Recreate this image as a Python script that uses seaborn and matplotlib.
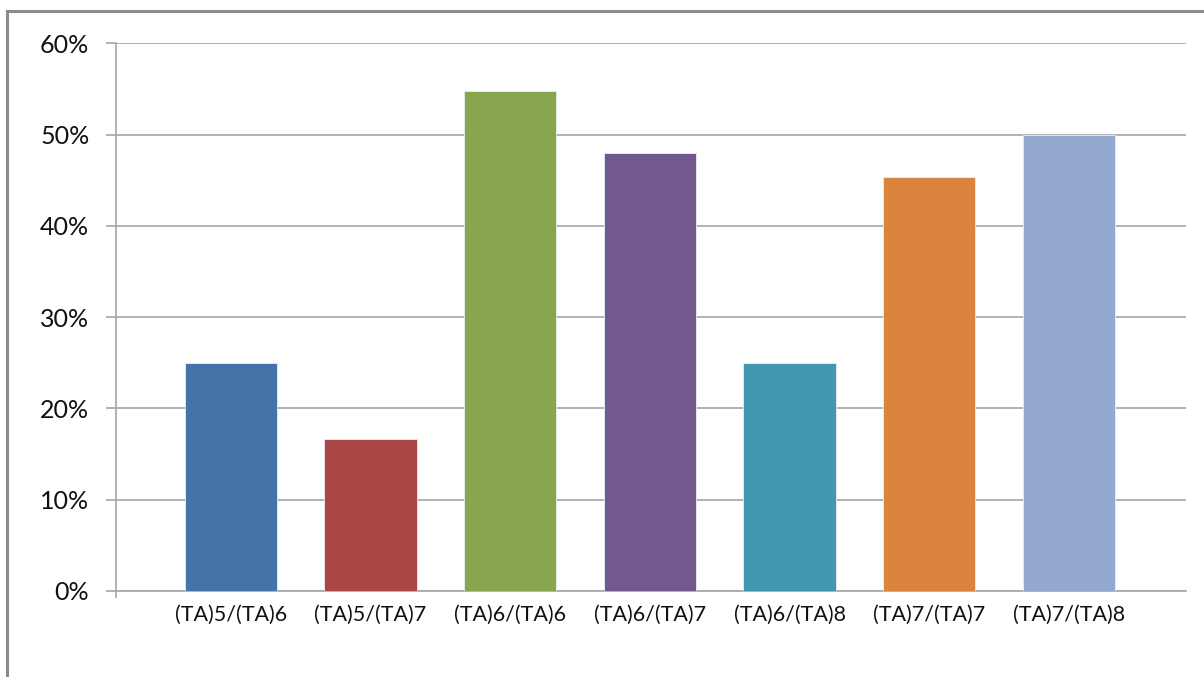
import matplotlib
matplotlib.use("Agg")
import matplotlib.pyplot as plt
import matplotlib.patches as mpatches
from matplotlib.ticker import PercentFormatter, FixedLocator
import seaborn as sns
import pandas as pd

categories = ["(TA)5/(TA)6", "(TA)5/(TA)7", "(TA)6/(TA)6", "(TA)6/(TA)7",
              "(TA)6/(TA)8", "(TA)7/(TA)7", "(TA)7/(TA)8"]
values = [25.0, 16.7, 54.8, 48.0, 25.0, 45.3, 50.0]
colors = ["#4572A7", "#AA4643", "#89A54E", "#71588F", "#4198AF", "#DB843D", "#93A9CF"]
yticks = [0, 10, 20, 30, 40, 50, 60]

sns.set_theme(style="white")
plt.rcParams['font.family'] = ['Lato', 'DejaVu Sans']

df = pd.DataFrame({"cat": categories, "val": values})

fig = plt.figure(figsize=(12.04, 6.77), dpi=100)
ax = fig.add_axes([116/1204, 1 - 591/677, (1186 - 116)/1204, (591 - 43.3)/677])

sns.barplot(data=df, x="cat", y="val", hue="cat", palette=colors, legend=False,
            width=0.66, saturation=1, ax=ax, zorder=3, linewidth=0.6, edgecolor="#e8eef6")

ax.set_xlim(-0.821, 6.838)
ax.set_ylim(0, 60)
ax.yaxis.set_major_locator(FixedLocator(yticks))
ax.yaxis.set_major_formatter(PercentFormatter(100, decimals=0))
ax.grid(axis="y", color="#a6a6a6", linewidth=1.2, zorder=0)
ax.grid(axis="x", visible=False)
ax.set_xlabel("")
ax.set_ylabel("")

for s in ["top", "right"]:
    ax.spines[s].set_visible(False)
for s in ["left", "bottom"]:
    ax.spines[s].set_color("#a6a6a6")
    ax.spines[s].set_linewidth(1.2)

ax.tick_params(axis="y", which="major", left=True, length=7.2, width=1.2,
               color="#a6a6a6", pad=12, labelsize=18, labelcolor="#111111")
ax.tick_params(axis="x", which="major", bottom=False, length=0, pad=10,
               labelsize=15.5, labelcolor="#111111")
ax.set_xticks(ax.get_xticks(), categories)
ax.xaxis.set_minor_locator(FixedLocator([-0.821]))
ax.tick_params(axis="x", which="minor", bottom=True, length=5, width=1.2, color="#a6a6a6")

# outer frame of the chart
frame = mpatches.Rectangle((7/1204, -0.05), 1.1, 1 - 11/677 + 0.05,
                           transform=fig.transFigure, fill=False,
                           edgecolor="#8c8c8c", linewidth=2.2)
fig.patches.append(frame)

fig.savefig("out.png", dpi=100)
